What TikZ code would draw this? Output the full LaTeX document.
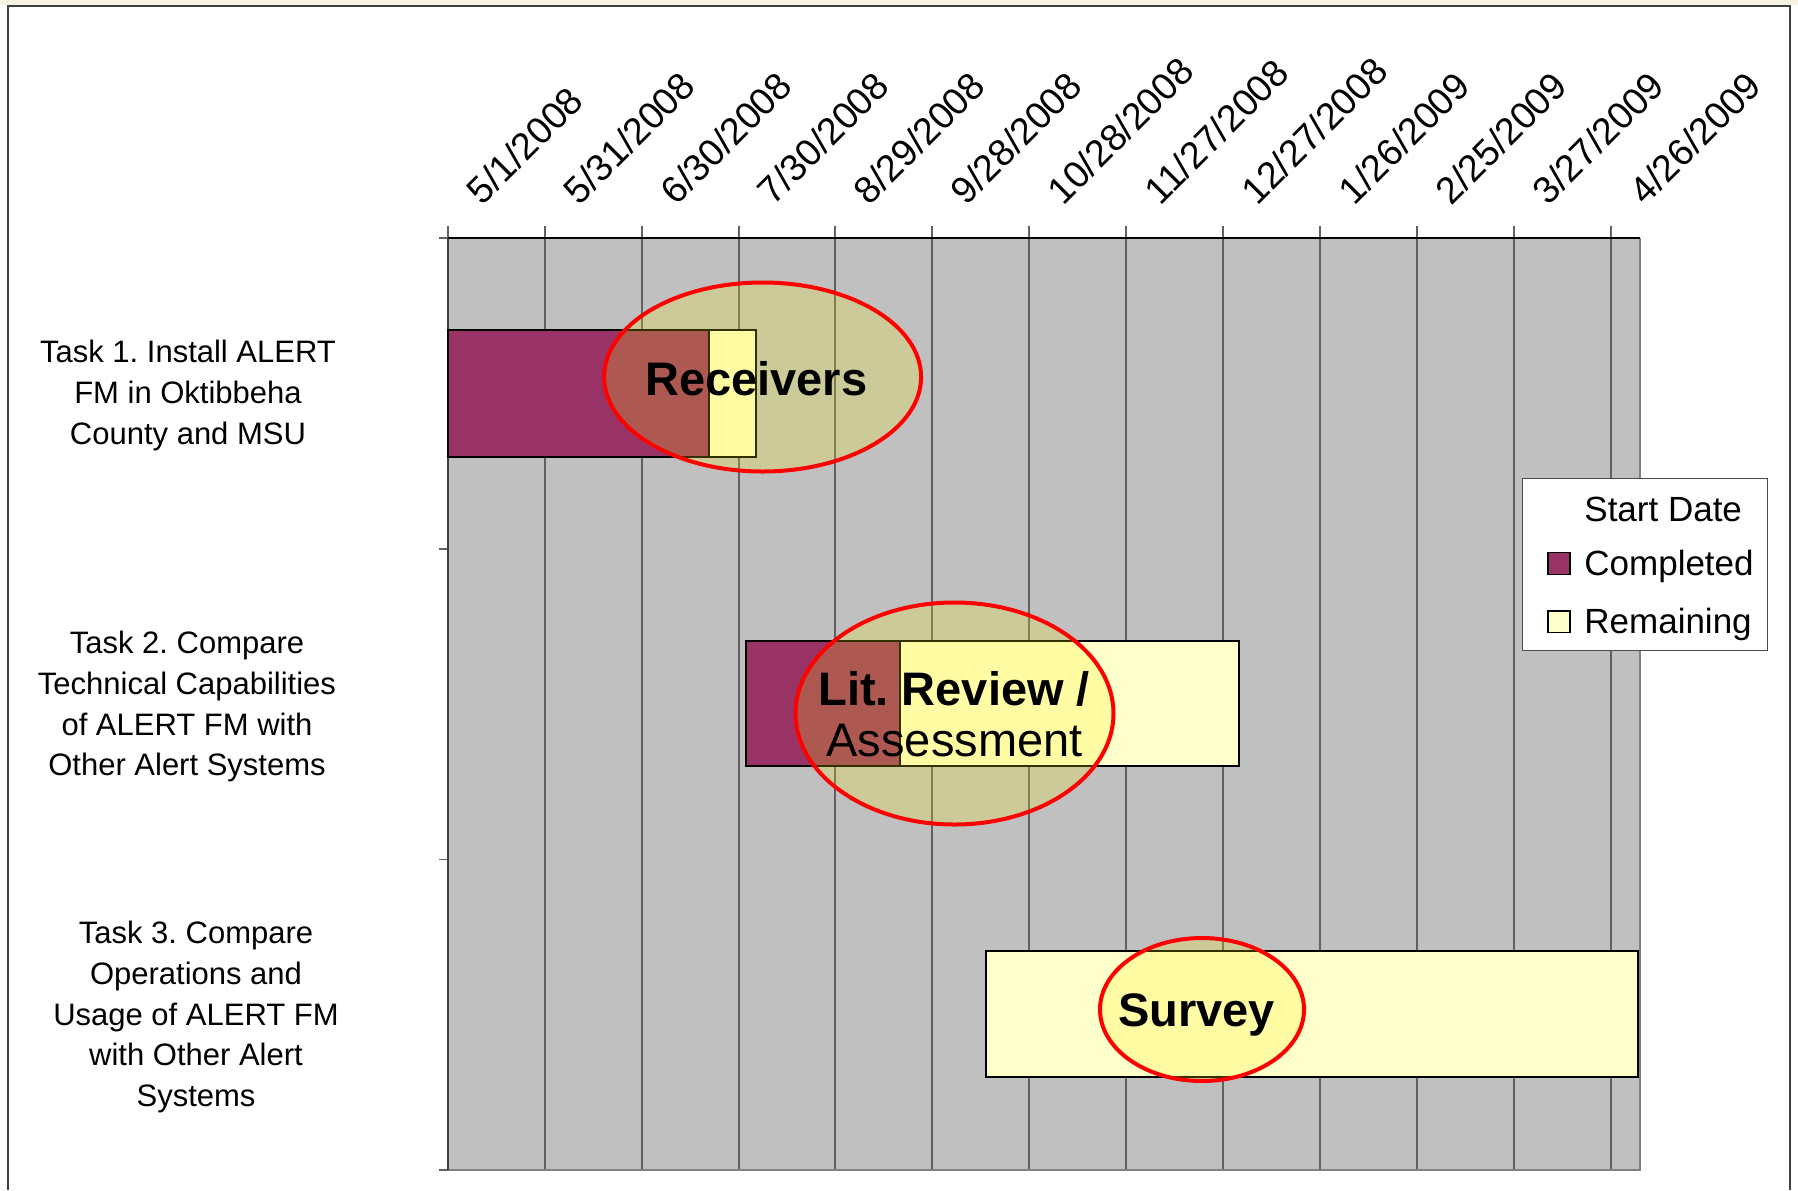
\documentclass[tikz,border=0pt]{standalone}
\usepackage{fontspec}
\setmainfont{Liberation Sans}
\usetikzlibrary{positioning}
\definecolor{plotgray}{RGB}{192,192,192}
\definecolor{donepurple}{RGB}{153,51,102}
\definecolor{todoyellow}{RGB}{255,255,204}
\definecolor{framegray}{RGB}{64,64,64}
\definecolor{pagebeige}{RGB}{247,243,228}
\frenchspacing

\begin{document}
\begin{tikzpicture}[x=0.5pt, y=-0.5pt,
    datelabel/.style={rotate=45, anchor=base west, inner sep=0pt, font=\fontsize{18.8}{21}\selectfont},
    tasklabel/.style={align=center, inner sep=0pt, font=\fontsize{15.5}{20.35}\selectfont},
    legendtext/.style={anchor=base west, inner sep=0pt, font=\fontsize{17.5}{20}\selectfont},
    bigtext/.style={anchor=base, inner sep=0pt, font=\fontsize{23.5}{26}\selectfont},
    gridline/.style={draw=black!62, line width=0.75pt},
    bar/.style={draw=black, line width=1pt},
    callout/.style={draw=red, line width=2pt, fill=yellow, fill opacity=0.2}]
            \useasboundingbox (0,0) rectangle (1798,1190);
            % --- Page and frame ---
            \fill[pagebeige] (0,0) rectangle (1798,5);
            \draw[framegray, line width=1pt] (7.5,1190) -- (7.5,5.5) -- (1790,5.5) -- (1790,1190);

            % --- Plot area ---
            \fill[plotgray] (448,238) rectangle (1640,1170);
            \draw[gridline] (448,226) -- (448,1170);
            \draw[gridline] (545,226) -- (545,1170);
            \draw[gridline] (642,226) -- (642,1170);
            \draw[gridline] (739,226) -- (739,1170);
            \draw[gridline] (835,226) -- (835,1170);
            \draw[gridline] (932,226) -- (932,1170);
            \draw[gridline] (1029,226) -- (1029,1170);
            \draw[gridline] (1126,226) -- (1126,1170);
            \draw[gridline] (1223,226) -- (1223,1170);
            \draw[gridline] (1320,226) -- (1320,1170);
            \draw[gridline] (1417,226) -- (1417,1170);
            \draw[gridline] (1514,226) -- (1514,1170);
            \draw[gridline] (1611,226) -- (1611,1170);
            % category ticks
            \draw[gridline] (439,238) -- (448,238);
            \draw[gridline] (439,549) -- (448,549);
            \draw[gridline] (439,859.5) -- (448,859.5);
            \draw[gridline] (439,1170) -- (448,1170);
            % axes and border
            \draw[black!50, line width=1.25pt] (448,1170) -- (1640,1170) -- (1640,238);
            \draw[black, line width=0.9pt] (448,238) -- (1640,238);
            \draw[framegray, line width=1.1pt] (448,238) -- (448,1170);

            % --- Dates ---
            \node[datelabel] (d1) at (482,207) {5/1/2008};
            \node[datelabel] (d2) at (579,207) {5/31/2008};
            \node[datelabel] (d3) at (676,207) {6/30/2008};
            \node[datelabel] (d4) at (773,207) {7/30/2008};
            \node[datelabel] (d5) at (869,207) {8/29/2008};
            \node[datelabel] (d6) at (966,207) {9/28/2008};
            \node[datelabel] (d7) at (1063,207) {10/28/2008};
            \node[datelabel] (d8) at (1160,207) {11/27/2008};
            \node[datelabel] (d9) at (1257,207) {12/27/2008};
            \node[datelabel] (d10) at (1354,207) {1/26/2009};
            \node[datelabel] (d11) at (1451,207) {2/25/2009};
            \node[datelabel] (d12) at (1548,207) {3/27/2009};
            \node[datelabel] (d13) at (1645,207) {4/26/2009};

            % --- Tasks ---
            \node[tasklabel] (task1) at (188,395.5) {Task 1. Install ALERT\\FM in Oktibbeha\\County and MSU};
            \node[tasklabel] (task2) at (187,706.8) {Task 2. Compare\\Technical Capabilities\\of ALERT FM with\\Other Alert Systems};
            \node[tasklabel] (task3) at (196,1017) {Task 3. Compare\\Operations and\\Usage of ALERT FM\\with Other Alert\\Systems};

            % --- Bars ---
            \draw[bar, fill=donepurple] (448,330) rectangle (708.6,456.5);
            \draw[bar, fill=todoyellow] (708.6,330) rectangle (756,456.5);
            \draw[bar, fill=donepurple] (746,641) rectangle (900,766);
            \draw[bar, fill=todoyellow] (900,641) rectangle (1238.6,766);
            \draw[bar, fill=todoyellow] (986,950.5) rectangle (1638,1077);

            % Highlights
            \draw[callout] (762.6,377) ellipse [x radius=158.5, y radius=94.5];
            \draw[callout] (954.5,713.5) ellipse [x radius=159, y radius=111];
            \draw[callout] (1202,1009.5) ellipse [x radius=102, y radius=71.5];
            \node[bigtext, font=\fontsize{23.5}{26}\selectfont\bfseries] (rcv) at (756.3,395.6) {Receivers};
            \node[bigtext, font=\fontsize{23.5}{26}\selectfont\bfseries] (lit) at (954.1,705) {Lit. Review /};
            \node[bigtext] (assess) at (954.6,756.8) {Assessment};
            \node[bigtext, font=\fontsize{23.5}{26}\selectfont\bfseries] (srv) at (1196.6,1026) {Survey};

            % --- Legend ---
            \draw[black!70, fill=white, line width=0.5pt] (1522,478) rectangle (1767,650.5);
            \draw[black, line width=0.6pt, fill=donepurple] (1548,552.5) rectangle (1570,574.5);
            \draw[black, line width=0.6pt, fill=todoyellow] (1548,611) rectangle (1570,632.5);
            \node[legendtext] (lgstart) at (1584,521.7) {Start Date};
            \node[legendtext] (lgdone) at (1584,575.6) {Completed};
            \node[legendtext] (lgtodo) at (1584,633) {Remaining};
        \end{tikzpicture}
\end{document}
